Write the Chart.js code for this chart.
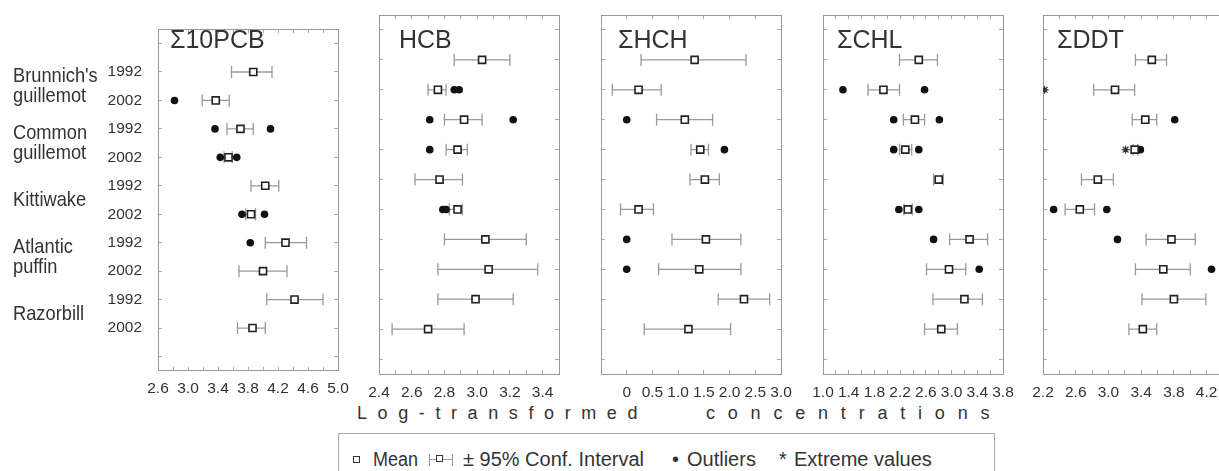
<!DOCTYPE html>
<html>
<head>
<meta charset="utf-8">
<script src="https://cdn.jsdelivr.net/npm/chart.js@4.4.0/dist/chart.umd.min.js"></script>
<style>
  html, body { margin: 0; padding: 0; background: #fff; }
  #wrap {
    position: relative; width: 1219px; height: 471px; overflow: hidden;
    font-family: 'Liberation Sans', Arial, sans-serif; color: #333;
  }
  #wrap canvas { position: absolute; top: 0; }
  .species {
    position: absolute; left: 13px; font-size: 21px; line-height: 20px; white-space: nowrap;
    transform: scaleX(0.87); transform-origin: left center;
  }
  .ptitle { position: absolute; top: 27px; font-size: 25px; line-height: 25px; }
  .xtitle {
    position: absolute; top: 403px; font-size: 18px; line-height: 20px; white-space: pre;
  }
  #legend { position: absolute; left: 338px; top: 433px; width: 655px; height: 60px; border: 1px solid #aaa; }
  #legend .it { position: absolute; top: 15px; font-size: 20px; line-height: 20px; white-space: nowrap; }
  .sq { position: absolute; width: 5px; height: 5px; border: 1.5px solid #333; background: #fff; }
  .ci { position: absolute; top: 20px; width: 24px; height: 12px; }
  .ci .h { position: absolute; left: 0; right: 0; top: 5px; border-top: 1px solid #999; }
  .ci .v1, .ci .v2 { position: absolute; top: 0; height: 12px; border-left: 1px solid #999; }
  .ci .v1 { left: 0; } .ci .v2 { right: 0; }
</style>
</head>
<body>
<div id="wrap">
  <div class="xtitle" style="left:357px; letter-spacing:10.6px">Log-transformed</div>
  <div class="xtitle" style="left:706px; letter-spacing:12.8px">concentrations</div>
  <div id="legend">
    <span class="sq" style="left:14px; top:22px"></span>
    <span class="it" style="left:34px; transform:scaleX(0.9); transform-origin:left center">Mean</span>
    <span class="ci" style="left:90px"><span class="h"></span><span class="v1"></span><span class="v2"></span><span class="sq" style="left:7px; top:1px"></span></span>
    <span class="it" style="left:124px">± 95% Conf. Interval</span>
    <span class="it" style="left:333px">•</span>
    <span class="it" style="left:348px">Outliers</span>
    <span class="it" style="left:440px">*</span>
    <span class="it" style="left:455px">Extreme values</span>
  </div>
</div>
<script>
// rows 1..10 of every panel, top to bottom
const years = ['1992', '2002', '1992', '2002', '1992', '2002', '1992', '2002', '1992', '2002']
const species = [["Brunnich's", 'guillemot'], ['Common', 'guillemot'], ['Kittiwake'], ['Atlantic', 'puffin'], ['Razorbill']]
const compounds = ['Σ10PCB', 'HCB', 'ΣHCH', 'ΣCHL', 'ΣDDT']

// x axis per panel
const axisMin = [2.6, 2.4, -0.5, 1.0, 2.2]
const axisMax = [5.0, 3.5, 3.0, 3.8, 4.4]
const minorStep = [0.2, 0.1, 0.5, 0.2, 0.2]
const labelFirst = [2.6, 2.4, 0, 1.0, 2.2]
const labelStep = [0.4, 0.2, 0.5, 0.4, 0.4]

// mean, 95% CI low/high per row; outliers and extremes as [row, value]
const pcbMean = [3.87, 3.37, 3.70, 3.54, 4.03, 3.84, 4.30, 4.00, 4.42, 3.86]
const pcbLow = [3.58, 3.19, 3.52, 3.48, 3.84, 3.77, 4.03, 3.68, 4.05, 3.66]
const pcbHigh = [4.12, 3.55, 3.87, 3.59, 4.21, 3.90, 4.58, 4.32, 4.80, 4.03]
const pcbOut = [[2, 2.82], [3, 3.36], [3, 4.10], [4, 3.43], [4, 3.65], [6, 3.72], [6, 4.02], [7, 3.83]]
const pcbExt = []

const hcbMean = [3.03, 2.76, 2.92, 2.88, 2.77, 2.88, 3.05, 3.07, 2.99, 2.70]
const hcbLow = [2.86, 2.70, 2.80, 2.81, 2.62, 2.83, 2.80, 2.76, 2.76, 2.48]
const hcbHigh = [3.20, 2.81, 3.03, 2.94, 2.91, 2.91, 3.30, 3.37, 3.22, 2.92]
const hcbOut = [[2, 2.86], [2, 2.89], [3, 2.71], [3, 3.22], [4, 2.71], [6, 2.79], [6, 2.81]]
const hcbExt = []

const hchMean = [1.32, 0.23, 1.13, 1.43, 1.52, 0.23, 1.54, 1.41, 2.28, 1.20]
const hchLow = [0.28, -0.28, 0.58, 1.25, 1.23, -0.12, 0.88, 0.62, 1.78, 0.34]
const hchHigh = [2.32, 0.67, 1.67, 1.59, 1.80, 0.52, 2.22, 2.22, 2.78, 2.02]
const hchOut = [[3, 0], [4, 1.90], [7, 0], [8, 0]]
const hchExt = []

const chlMean = [2.49, 1.94, 2.43, 2.28, 2.80, 2.32, 3.28, 2.96, 3.20, 2.84]
const chlLow = [2.19, 1.70, 2.25, 2.19, 2.72, 2.26, 2.97, 2.61, 2.71, 2.58]
const chlHigh = [2.78, 2.19, 2.58, 2.38, 2.87, 2.39, 3.56, 3.22, 3.48, 3.09]
const chlOut = [[2, 1.31], [2, 2.58], [3, 2.10], [3, 2.81], [4, 2.10], [4, 2.49], [6, 2.18], [6, 2.49], [7, 2.72], [8, 3.43]]
const chlExt = []

const ddtMean = [3.53, 3.08, 3.45, 3.32, 2.87, 2.65, 3.77, 3.67, 3.80, 3.42]
const ddtLow = [3.33, 2.82, 3.29, 3.30, 2.67, 2.47, 3.46, 3.33, 3.41, 3.25]
const ddtHigh = [3.71, 3.32, 3.59, 3.36, 3.06, 2.83, 4.06, 4.00, 4.19, 3.59]
const ddtOut = [[3, 3.81], [4, 3.39], [6, 2.33], [6, 2.98], [7, 3.11], [8, 4.26]]
const ddtExt = [[2, 2.22], [4, 3.21]]

// layout of the panels on the page
const plotLeft = [158, 379, 601, 823, 1043]
const plotWidth = 180
const sideRoom = 30
const titleInset = [12, 20, 17, 14, 14]
const rowTicks = [0, 1, 2, 3, 4, 5, 6, 7, 8, 9, 10, 11]

Chart.defaults.font.family = "'Liberation Sans', Arial, sans-serif"
Chart.defaults.font.size = 15.5
Chart.defaults.color = '#333'

const wrap = document.getElementById('wrap')

const frameAxis = {
  border: { color: '#999', width: 1 },
  grid: { drawOnChartArea: false, tickLength: -4, color: '#aaa' }
}

function makePanel (i, means, lows, highs, outs, exts) {
  const leftW = i === 0 ? plotLeft[0] : sideRoom
  const canvas = document.createElement('canvas')
  canvas.width = leftW + plotWidth + sideRoom
  canvas.height = 400
  canvas.style.left = (plotLeft[i] - leftW) + 'px'
  wrap.appendChild(canvas)

  const ciData = []
  means.forEach((m, r) => {
    ciData.push({ x: lows[r], y: r + 1 }, { x: highs[r], y: r + 1 }, { x: null, y: r + 1 })
  })

  const labelFor = v => {
    const k = (v - labelFirst[i]) / labelStep[i]
    if (k < -1e-6 || Math.abs(k - Math.round(k)) > 1e-6) return ''
    return Math.abs(v) < 1e-9 ? '0' : v.toFixed(1)
  }

  const chart = new Chart(canvas, {
    type: 'scatter',
    data: {
      datasets: [
        {
          data: means.map((m, r) => ({ x: m, y: r + 1 })),
          pointStyle: 'rect', pointRadius: 5, pointBackgroundColor: '#fff',
          pointBorderColor: '#222', pointBorderWidth: 1.6, order: 0
        },
        {
          data: outs.map(o => ({ x: o[1], y: o[0] })),
          pointStyle: 'circle', pointRadius: 3.8, pointBackgroundColor: '#111',
          pointBorderColor: '#111', pointBorderWidth: 0, order: 1
        },
        {
          data: exts.map(o => ({ x: o[1], y: o[0] })),
          pointStyle: 'star', pointRadius: 4, pointBorderColor: '#333', pointBorderWidth: 1.2, order: 1
        },
        {
          data: ciData, showLine: true, spanGaps: false, borderColor: '#999', borderWidth: 1.3,
          pointStyle: 'line', pointRotation: 90, pointRadius: 6,
          pointBorderColor: '#999', pointBorderWidth: 1.3, order: 2
        }
      ]
    },
    options: {
      responsive: false,
      animation: false,
      events: [],
      layout: { padding: 0 },
      plugins: { legend: { display: false }, tooltip: { enabled: false } },
      scales: {
        x: {
          type: 'linear', position: 'bottom', min: axisMin[i], max: axisMax[i], ...frameAxis,
          afterFit: s => { s.height = 26 },
          ticks: { stepSize: minorStep[i], autoSkip: false, maxRotation: 0, padding: 13, callback: labelFor }
        },
        x2: {
          type: 'linear', position: 'top', min: axisMin[i], max: axisMax[i], ...frameAxis,
          afterFit: s => { s.height = 15 },
          ticks: { stepSize: minorStep[i], display: false }
        },
        y: {
          type: 'linear', position: 'left', reverse: true, min: -0.5, max: 11.5, ...frameAxis,
          afterBuildTicks: s => { s.ticks = rowTicks.map(v => ({ value: v })) },
          afterFit: s => { s.width = leftW },
          ticks: { display: i === 0, padding: 20, font: { size: 15.5 }, callback: v => years[v - 1] || '' }
        },
        y2: {
          type: 'linear', position: 'right', reverse: true, min: -0.5, max: 11.5, ...frameAxis,
          afterBuildTicks: s => { s.ticks = rowTicks.map(v => ({ value: v })) },
          afterFit: s => { s.width = sideRoom },
          ticks: { display: false }
        }
      }
    }
  })

  const t = document.createElement('div')
  t.className = 'ptitle'
  t.textContent = compounds[i]
  t.style.left = (plotLeft[i] + titleInset[i]) + 'px'
  wrap.appendChild(t)
  return chart
}

const pcbChart = makePanel(0, pcbMean, pcbLow, pcbHigh, pcbOut, pcbExt)
makePanel(1, hcbMean, hcbLow, hcbHigh, hcbOut, hcbExt)
makePanel(2, hchMean, hchLow, hchHigh, hchOut, hchExt)
makePanel(3, chlMean, chlLow, chlHigh, chlOut, chlExt)
makePanel(4, ddtMean, ddtLow, ddtHigh, ddtOut, ddtExt)

// species names beside the pairs of years
const yScale = pcbChart.scales.y
species.forEach((lines, k) => {
  const mid = (yScale.getPixelForValue(2 * k + 1) + yScale.getPixelForValue(2 * k + 2)) / 2
  const d = document.createElement('div')
  d.className = 'species'
  d.innerHTML = lines.join('<br>')
  d.style.top = (mid - lines.length * 10 - 1) + 'px'
  wrap.appendChild(d)
})
</script>
</body>
</html>
